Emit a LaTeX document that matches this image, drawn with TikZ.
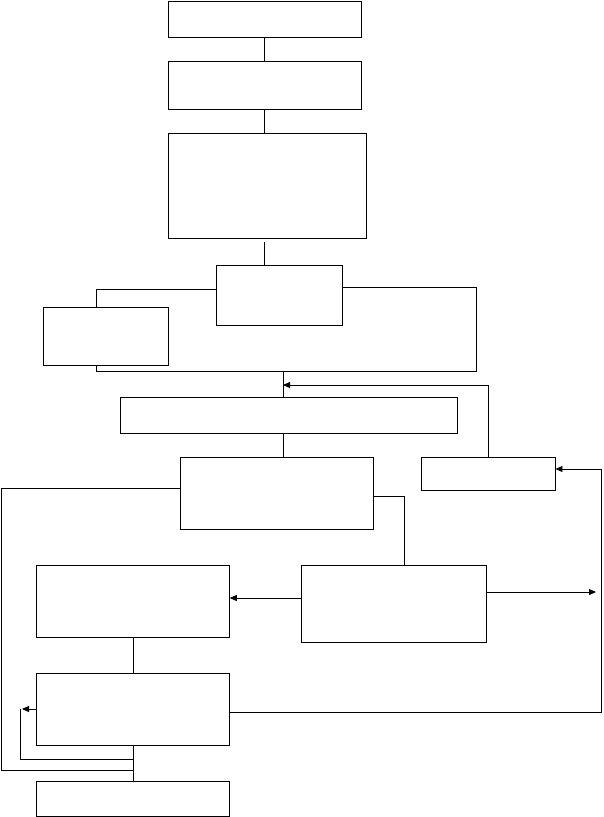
\documentclass[tikz,border=0pt]{standalone}
\usetikzlibrary{arrows.meta}
\begin{document}
\begin{tikzpicture}[x=1pt,y=-1pt,line width=0.9pt,
    blk/.style={draw,rectangle,inner sep=0pt},
    >={Triangle[length=7pt,width=6pt]}]%
     \useasboundingbox (0,0) rectangle (603,817);
     \node[blk,minimum width=193pt,minimum height=36pt] at (264.5,19) (B1) {};
     \node[blk,minimum width=193pt,minimum height=48pt] at (264.5,85) (B2) {};
     \node[blk,minimum width=198pt,minimum height=105pt] at (267,185.5) (B3) {};
     \node[blk,minimum width=126pt,minimum height=60pt] at (279,295) (B4) {};
     \node[blk,minimum width=125.5pt,minimum height=58pt] at (106,336) (B5) {};
     \node[blk,minimum width=337pt,minimum height=36pt] at (288.5,415) (B6) {};
     \node[blk,minimum width=192.5pt,minimum height=72pt] at (277,493) (B7) {};
     \node[blk,minimum width=134pt,minimum height=33pt] at (488,473.5) (B8) {};
     \node[blk,minimum width=192.6pt,minimum height=72pt] at (133,601) (B9) {};
     \node[blk,minimum width=185.5pt,minimum height=77pt] at (394,603.5) (B10) {};
     \node[blk,minimum width=192.6pt,minimum height=72pt] at (133,709) (B11) {};
     \node[blk,minimum width=192.6pt,minimum height=35pt] at (133,798.5) (B12) {};

     \coordinate (J1) at (283,371.5);
     \coordinate (J2) at (134,759);
     \coordinate (J3) at (134,770);
     \coordinate (R1) at (596,592);
     \coordinate (L1) at (22,709);

     \draw (B1.south) -- (B2.north);
     \draw (B2.south) -- (B2.south |- B3.north);
     \draw ([yshift=-4pt]B2.south |- B3.south) -- (B2.south |- B4.north);
     
      \draw ([yshift=6pt]B4.west) -| ([xshift=-9.5pt]B5.north);
      \draw ([xshift=-9.5pt]B5.south) |- (476,371.5) |- ([yshift=8pt]B4.east);
      \draw (J1) -- (J1 |- B6.north);
      \draw [->] (B8.north) |- (J1 |- 0,385);
      \draw (J1 |- B6.south) -- (J1 |- B7.north);

      \draw ([yshift=5pt]B7.west) -| (1,770) -- (J3);
      \draw ([yshift=-3pt]B7.east) -| ([xshift=10pt]B10.north);
      \draw [->] ([yshift=5.5pt]B10.west) -- ([yshift=5.5pt]B10.west -| B9.east);
      \draw [->] ([yshift=11.5pt]B10.east) -- (R1);
      \draw [->] ([yshift=-3pt]B11.east) -| (601,469) -- ([yshift=4.5pt]B8.east);

       \draw (B9.south) -- (B11.north);
       \draw (B11.south) -- (B12.north);
       \draw [->] (B11.west) -- (L1);
       \draw (20,709) |- (J2);
\end{tikzpicture}
\end{document}
